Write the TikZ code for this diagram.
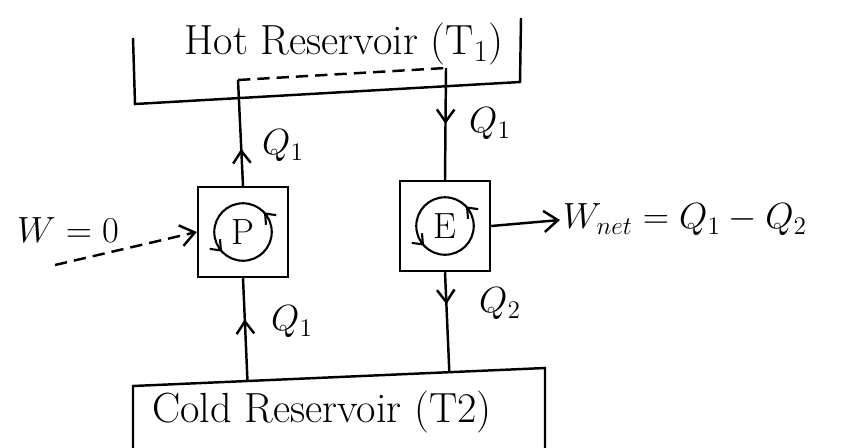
\documentclass[tikz,border=0pt]{standalone}
\usepackage{amsmath}
\usepackage{tikz}
\usetikzlibrary{arrows.meta,positioning,calc,decorations.markings}

\begin{document}
\begin{tikzpicture}[x=0.02cm,y=-0.02cm,line width=1.4pt,
  maquina/.style={draw,line width=1.4pt,minimum width=1.8cm,minimum height=1.8cm,inner sep=0pt},
  ciclo/.style={draw,circle,line width=1.2pt,minimum size=1.15cm,inner sep=0pt,font=\huge,
    postaction={decorate},decoration={markings,
      mark=at position 0.12 with {\arrow{Straight Barb[length=5pt,width=8pt]}},
      mark=at position 0.62 with {\arrow{Straight Barb[length=5pt,width=8pt]}}}},
  flujo/.style={postaction={decorate},decoration={markings,
      mark=at position #1 with {\arrow{Straight Barb[length=7pt,width=10pt]}}}},
  texto/.style={font=\huge,inner sep=1pt},
  deposito/.style={font=\fontsize{24}{29}\selectfont,inner sep=1pt},
  rayas/.style={dash pattern=on 7pt off 4pt}]
\useasboundingbox (0,0) rectangle (841,447);

% depositos
\coordinate (hotnw) at (133,38);
\coordinate (hotsw) at (135,104);
\coordinate (hotse) at (520,82);
\coordinate (hotne) at (521,18);
\draw (hotnw) -- (hotsw) -- (hotse) -- (hotne);
\node[deposito] (hotlabel) at (344,44) {Hot Reservoir (T$_1$)};

\coordinate (coldsw) at (133,450);
\coordinate (coldnw) at (133,386);
\coordinate (coldne) at (545,368);
\coordinate (coldse) at (545,450);
\draw (coldsw) -- (coldnw) -- (coldne) -- (coldse);
\node[deposito] (coldlabel) at (322,412) {Cold Reservoir (T2)};

% bomba y maquina
\node[maquina] (pump) at (243,232) {};
\node[ciclo] (pcycle) at (pump.center) {P};
\node[maquina] (engine) at (445,226) {};
\node[ciclo] (ecycle) at (engine.center) {E};

\coordinate (ptop) at (238,80);
\coordinate (etop) at (446,68);
\coordinate (pbot) at ($(coldnw)!(pump.south)!(coldne)$);
\coordinate (ebot) at ($(coldnw)!(engine.south)!(coldne)$);

\draw[flujo=0.35] (pump.north) -- (ptop);
\draw[rayas] (ptop) -- (etop);
\draw[flujo=0.5] (etop) -- (engine.north);
\draw[flujo=0.6] (pbot) -- (pump.south);
\draw[flujo=0.32] (engine.south) -- (ebot);

\node[texto] (q1top) at (283,146) {$Q_1$};
\node[texto] (q1right) at (490,124) {$Q_1$};
\node[texto] (q1bot) at (292,322) {$Q_1$};
\node[texto] (q2) at (500,304) {$Q_2$};

% trabajo
\node[texto] (wzero) at (68,230) {$W=0$};
\coordinate (win) at (55,265);
\draw[rayas,-{Straight Barb[length=8pt,width=12pt]}] (win) -- (pump.west);

\coordinate (wout) at (560,220);
\draw[-{Straight Barb[length=8pt,width=12pt]}] (engine.east) -- (wout);
\node[texto,anchor=west] (wnet) at (wout) {$W_{net}=Q_1-Q_2$};
\end{tikzpicture}
\end{document}
